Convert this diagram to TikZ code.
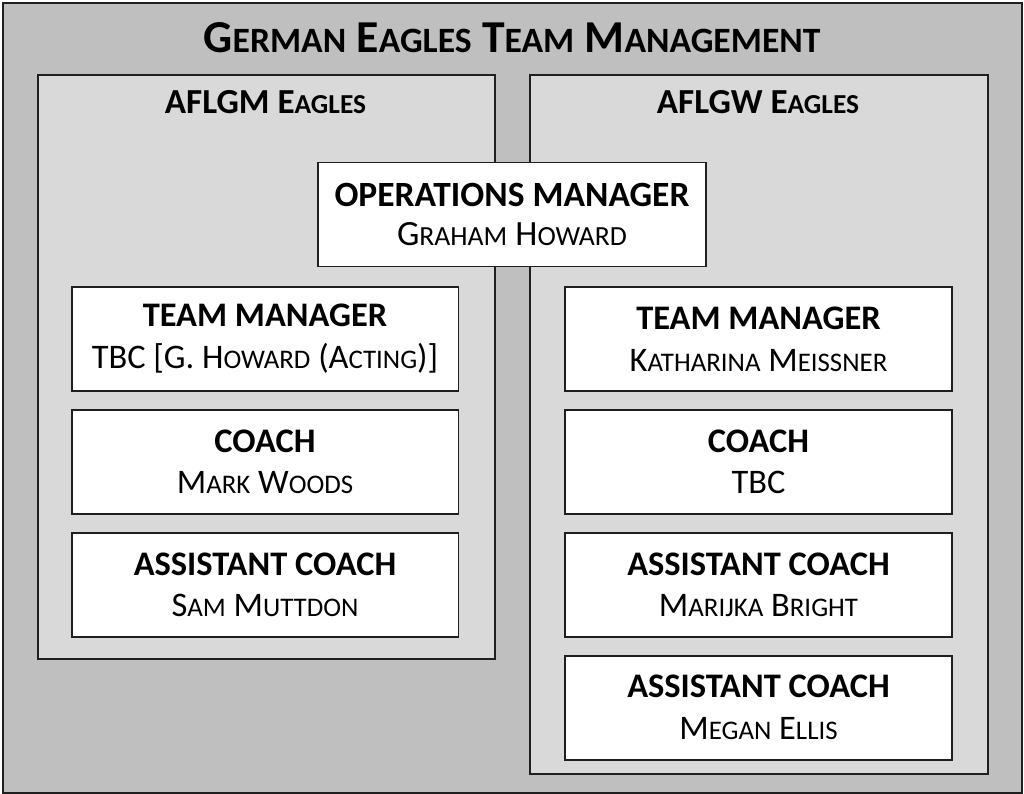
\documentclass[tikz,border=0pt]{standalone}
\usepackage{fontspec}
\setmainfont{Carlito}
\newfontfamily\smcfont[Scale=0.78]{Carlito}
\newcommand{\sm}[1]{{\smcfont #1}}
\usetikzlibrary{positioning}
\definecolor{outergray}{gray}{0.75}
\definecolor{panelgray}{gray}{0.85}
\definecolor{edgegray}{gray}{0.12}

\tikzset{
  frame/.style={draw=edgegray, line width=1.1pt},
  panel/.style={frame, fill=panelgray, anchor=north west, inner sep=0pt},
  rolebox/.style={frame, fill=white, minimum width=7.74cm, minimum height=2.08cm,
    inner sep=0pt, align=center, font=\fontsize{19.6}{23.8}\selectfont},
  paneltitle/.style={anchor=base, font=\fontsize{20}{24}\selectfont\bfseries},
}

\begin{document}
\begin{tikzpicture}[x=0.02cm, y=-0.02cm, node distance=0.34cm]
  \useasboundingbox (0,0) rectangle (1024,794);

  % Outer frame and heading
  \node[panel, fill=outergray, minimum width=20.38cm, minimum height=15.8cm] (outer) at (2,2) {};
  \node[anchor=base, font=\fontsize{26}{30}\selectfont\bfseries] (heading) at (512,53)
    {G\sm{ERMAN} E\sm{AGLES} T\sm{EAM} M\sm{ANAGEMENT}};

  % Team panels
  \node[panel, minimum width=9.14cm, minimum height=11.68cm] (gmpanel) at (37,74) {};
  \node[panel, minimum width=9.16cm, minimum height=13.98cm] (gwpanel) at (529,74) {};
  \node[paneltitle] (gmtitle) at (265.5,113) {AFLGM E\sm{AGLES}};
  \node[paneltitle] (gwtitle) at (758,113) {AFLGW E\sm{AGLES}};

  % Shared box across both panels
  \node[rolebox, minimum width=7.76cm, font=\fontsize{20.2}{22.5}\selectfont] (ops) at (512,214.5)
    {\textbf{OPERATIONS MANAGER}\\ G\sm{RAHAM} H\sm{OWARD}};

  % AFLGM roles
  \node[rolebox, anchor=north] (gmtm) at (265,286)
    {\textbf{TEAM MANAGER}\\ TBC [G. H\sm{OWARD} (A\sm{CTING})]};
  \node[rolebox, below=of gmtm] (gmcoach)
    {\textbf{COACH}\\ M\sm{ARK} W\sm{OODS}};
  \node[rolebox, below=of gmcoach] (gmasst)
    {\textbf{ASSISTANT COACH}\\ S\sm{AM} M\sm{UTTDON}};

  % AFLGW roles
  \node[rolebox, anchor=north] (gwtm) at (758.5,286)
    {\textbf{TEAM MANAGER}\\ K\sm{ATHARINA} M\sm{EISSNER}};
  \node[rolebox, below=of gwtm] (gwcoach)
    {\textbf{COACH}\\ TBC};
  \node[rolebox, below=of gwcoach] (gwasst)
    {\textbf{ASSISTANT COACH}\\ M\sm{ARIJKA} B\sm{RIGHT}};
  \node[rolebox, below=of gwasst] (gwasstb)
    {\textbf{ASSISTANT COACH}\\ M\sm{EGAN} E\sm{LLIS}};
\end{tikzpicture}
\end{document}
